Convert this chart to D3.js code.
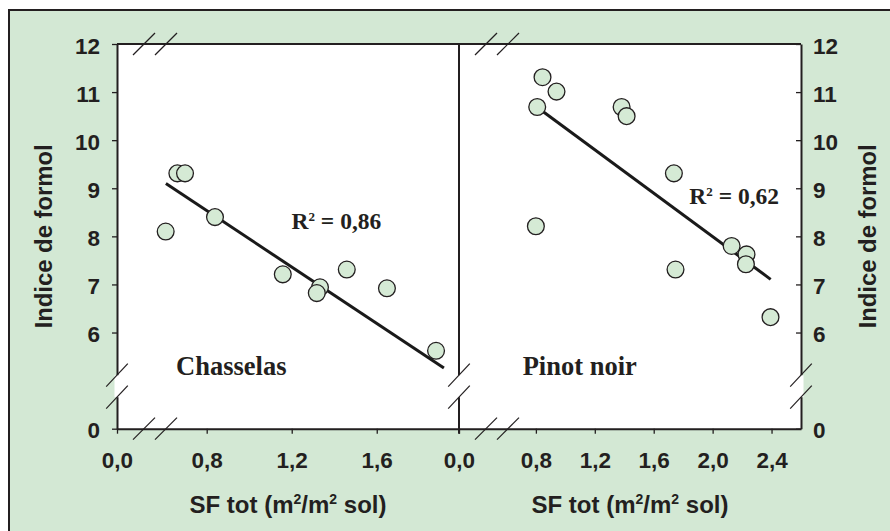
<!DOCTYPE html>
<html>
<head>
<meta charset="utf-8">
<script src="https://cdn.jsdelivr.net/npm/d3@7"></script>
<style>
  body { margin: 0; background: #fff; }
  svg text { fill: #231f20; }
  .tick text { font-family: "Liberation Sans", Arial, sans-serif; font-weight: bold; font-size: 22.5px; }
</style>
</head>
<body>
<svg id="chart" width="890" height="531"></svg>
<script>
// Chasselas
const chasselasSF = [0.662, 0.698, 0.839, 0.607, 1.158, 1.333, 1.318, 1.459, 1.648, 1.879];
const chasselasIF = [9.31, 9.31, 8.40, 8.10, 7.21, 6.94, 6.82, 7.31, 6.92, 5.62];
const chasselasFitX = [0.608, 1.916];
const chasselasFitY = [9.10, 5.26];

// Pinot noir
const pinotSF = [0.845, 0.94, 0.809, 1.382, 1.416, 1.737, 0.80, 2.129, 2.23, 2.226, 1.748, 2.393];
const pinotIF = [11.31, 11.01, 10.69, 10.69, 10.5, 9.31, 8.21, 7.80, 7.625, 7.42, 7.31, 6.32];
const pinotFitX = [0.85, 2.394];
const pinotFitY = [10.59, 7.106];

// ticks
const yTicks = [4, 6, 7, 8, 9, 10, 11, 12]; // 4 sits at the break, labelled 0
const xTicksLeft = [0.8, 1.2, 1.6];
const xTicksRight = [0.8, 1.2, 1.6, 2.0, 2.4];

const ink = "#231f20";
const green = "#d3e8d4";
const plotTop = 44, plotBottom = 428.7, left0 = 117, mid = 459, right1 = 801;

const svg = d3.select("#chart");

// outer frame
svg.append("rect").attr("x", 9).attr("y", 10).attr("width", 900).attr("height", 600)
  .attr("fill", green).attr("stroke", ink).attr("stroke-width", 2);

// plot area
svg.append("rect").attr("x", left0).attr("y", plotTop)
  .attr("width", right1 - left0).attr("height", plotBottom - plotTop).attr("fill", "#fff");

const y = d3.scaleLinear().domain([4, 12]).range([plotBottom, plotTop]);
const xL = d3.scaleLinear().domain([0.378, 1.987]).range([left0, mid]);
const xR = d3.scaleLinear().domain([0.278, 2.6]).range([mid, right1]);

const fmt = (d) => d.toFixed(1).replace(".", ",");

function styleAxis(g) {
  g.selectAll("path").attr("stroke", ink).attr("stroke-width", 2);
  g.selectAll("line").attr("stroke", ink).attr("stroke-width", 1.3);
  g.selectAll("text").attr("fill", ink);
}

// y axes
svg.append("g").attr("transform", `translate(${left0},0)`)
  .call(d3.axisLeft(y).tickValues(yTicks).tickSize(5).tickSizeOuter(0).tickPadding(12)
    .tickFormat((d) => (d === 4 ? "0" : d)))
  .call(styleAxis)
  .selectAll("text").attr("dy", "0.4em");

svg.append("g").attr("transform", `translate(${right1},0)`)
  .call(d3.axisRight(y).tickValues(yTicks).tickSize(-5).tickSizeOuter(0).tickPadding(12)
    .tickFormat((d) => (d === 4 ? "0" : d)))
  .call(styleAxis)
  .selectAll("text").attr("dy", "0.4em");

// x axes
svg.append("g").attr("transform", `translate(0,${plotBottom})`)
  .call(d3.axisBottom(xL).tickValues([xL.domain()[0], ...xTicksLeft]).tickSize(5).tickSizeOuter(0).tickPadding(18)
    .tickFormat((d, i) => (i === 0 ? "0,0" : fmt(d))))
  .call(styleAxis);

svg.append("g").attr("transform", `translate(0,${plotBottom})`)
  .call(d3.axisBottom(xR).tickValues([xR.domain()[0], ...xTicksRight]).tickSize(5).tickSizeOuter(0).tickPadding(18)
    .tickFormat((d, i) => (i === 0 ? "0,0" : fmt(d))))
  .call(styleAxis);

// top border and divider
svg.append("line").attr("x1", left0).attr("x2", right1).attr("y1", plotTop).attr("y2", plotTop)
  .attr("stroke", ink).attr("stroke-width", 2);
svg.append("line").attr("x1", mid).attr("x2", mid).attr("y1", plotTop).attr("y2", plotBottom + 5)
  .attr("stroke", ink).attr("stroke-width", 2);

// axis breaks
const half = 10.8, halfY = 11.5;
const breaksV = [plotBottom - 53.5, plotBottom - 31.5];
[left0, mid, right1].forEach((bx) => {
  svg.append("rect")
    .attr("x", bx - 2.5).attr("width", 5)
    .attr("y", breaksV[0]).attr("height", breaksV[1] - breaksV[0])
    .attr("fill", "#fff");
  breaksV.forEach((cy) => {
    svg.append("line").attr("x1", bx - half).attr("y1", cy + halfY)
      .attr("x2", bx + half).attr("y2", cy - halfY)
      .attr("stroke", ink).attr("stroke-width", 1.2);
  });
});
[left0, mid].forEach((px) => {
  [px + 27, px + 49].forEach((cx) => {
    [plotTop, plotBottom].forEach((cy) => {
      svg.append("line").attr("x1", cx - 11).attr("y1", cy + 11)
        .attr("x2", cx + 11).attr("y2", cy - 11)
        .attr("stroke", ink).attr("stroke-width", 1.2);
    });
  });
});

// trend lines
function fitLine(x, xs, ys) {
  svg.append("line")
    .attr("x1", x(xs[0])).attr("y1", y(ys[0]))
    .attr("x2", x(xs[1])).attr("y2", y(ys[1]))
    .attr("stroke", "#1a1a1a").attr("stroke-width", 3);
}
fitLine(xL, chasselasFitX, chasselasFitY);
fitLine(xR, pinotFitX, pinotFitY);

// points
function points(x, xs, ys) {
  svg.append("g").selectAll("circle")
    .data(xs.map((d, i) => ({ sf: d, f: ys[i] })))
    .join("circle")
    .attr("cx", (d) => x(d.sf))
    .attr("cy", (d) => y(d.f))
    .attr("r", 8.4)
    .attr("fill", "#d5ead5")
    .attr("stroke", ink)
    .attr("stroke-width", 1.3);
}
points(xL, chasselasSF, chasselasIF);
points(xR, pinotSF, pinotIF);

// labels
const serif = '"Liberation Serif", "Times New Roman", serif';
const sans = '"Liberation Sans", Arial, sans-serif';

function r2(xp, yp, val) {
  const t = svg.append("text").attr("x", xp).attr("y", yp)
    .attr("font-family", serif).attr("font-weight", "bold").attr("font-size", 23.5);
  t.append("tspan").text("R");
  t.append("tspan").attr("font-size", 13).attr("dy", -8).text("2");
  t.append("tspan").attr("dy", 8).text(" = " + val);
}
r2(291.5, 229.3, "0,86");
r2(689.3, 204, "0,62");

svg.append("text").attr("x", 176).attr("y", 375)
  .attr("font-family", serif).attr("font-weight", "bold").attr("font-size", 26.5).text("Chasselas");
svg.append("text").attr("x", 522.7).attr("y", 375)
  .attr("font-family", serif).attr("font-weight", "bold").attr("font-size", 26.5).text("Pinot noir");

function xTitle(cx) {
  const t = svg.append("text").attr("x", cx).attr("y", 513.3).attr("text-anchor", "middle")
    .attr("font-family", sans).attr("font-weight", "bold").attr("font-size", 24);
  t.append("tspan").text("SF tot (m");
  t.append("tspan").attr("font-size", 14).attr("dy", -9).text("2");
  t.append("tspan").attr("dy", 9).text("/m");
  t.append("tspan").attr("font-size", 14).attr("dy", -9).text("2");
  t.append("tspan").attr("dy", 9).text(" sol)");
}
xTitle((left0 + mid) / 2);
xTitle((mid + right1) / 2);

[52, 875.5].forEach((bx) => {
  svg.append("text")
    .attr("transform", `translate(${bx},${(plotTop + plotBottom) / 2}) rotate(-90)`)
    .attr("text-anchor", "middle")
    .attr("font-family", sans).attr("font-weight", "bold").attr("font-size", 24)
    .attr("textLength", 184).attr("lengthAdjust", "spacingAndGlyphs")
    .text("Indice de formol");
});
</script>
</body>
</html>
